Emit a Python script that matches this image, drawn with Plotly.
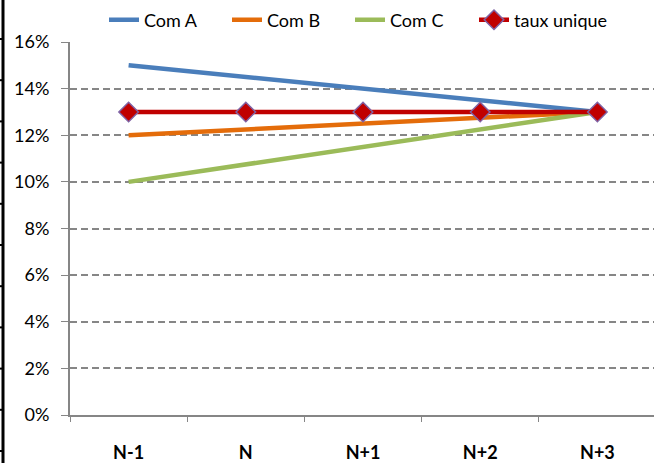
import plotly.graph_objects as go

categories = ["N-1", "N", "N+1", "N+2", "N+3"]
com_a = [15.0, 14.5, 14.0, 13.5, 13.0]
com_b = [12.0, 12.25, 12.5, 12.75, 13.0]
com_c = [10.0, 10.75, 11.5, 12.25, 13.0]
taux_unique = [13.0, 13.0, 13.0, 13.0, 13.0]
y_ticks = [0, 2, 4, 6, 8, 10, 12, 14, 16]
y_tick_labels = [f"{v}%" for v in y_ticks]

FONT = "Lato"
W, H = 654, 463
L, R, T, B = 70, 0, 42, 48
PW, PH = W - L - R, H - T - B

fig = go.Figure()
fig.add_trace(go.Scatter(x=categories, y=com_a, name="Com A", mode="lines",
                         line=dict(color="#4A7EBB", width=4.5), legend="legend"))
fig.add_trace(go.Scatter(x=categories, y=com_b, name="Com B", mode="lines",
                         line=dict(color="#E46C0A", width=4.5), legend="legend"))
fig.add_trace(go.Scatter(x=categories, y=com_c, name="Com C", mode="lines",
                         line=dict(color="#9BBB59", width=4.5), legend="legend"))
fig.add_trace(go.Scatter(x=categories, y=taux_unique, name="taux unique", mode="lines+markers",
                         line=dict(color="#C00000", width=4.5),
                         marker=dict(symbol="diamond", size=15, color="#C00000",
                                     line=dict(color="#7F63A5", width=1.5)),
                         legend="legend2"))

def px_x(px):
    return (px - L) / PW

def px_y(py):
    return (H - B - py) / PH

shapes = [dict(type="line", xref="paper", yref="paper",
               x0=px_x(3), x1=px_x(3), y0=px_y(0), y1=px_y(H),
               line=dict(color="black", width=3))]
for k in range(11):
    yy = 39 + 41.2 * k
    shapes.append(dict(type="line", xref="paper", yref="paper",
                       x0=px_x(0), x1=px_x(4), y0=px_y(yy), y1=px_y(yy),
                       line=dict(color="black", width=2)))

legend_common = dict(orientation="h", xanchor="left", y=px_y(20), yanchor="middle",
                     font=dict(family=FONT, size=18, color="black"),
                     bgcolor="rgba(0,0,0,0)")

fig.update_layout(
    width=W, height=H,
    margin=dict(l=L, r=R, t=T, b=B, autoexpand=False),
    paper_bgcolor="white", plot_bgcolor="white",
    font=dict(family=FONT, size=18, color="black"),
    showlegend=True,
    legend=dict(x=px_x(104), entrywidth=78, entrywidthmode="pixels", **legend_common),
    legend2=dict(x=px_x(474), **legend_common),
    shapes=shapes,
    xaxis=dict(type="category", range=[-0.5, 4.5 - 2 / 117], automargin=False,
               showline=True, linecolor="#868686", linewidth=2,
               ticks="outside", tickson="boundaries", ticklen=5, tickcolor="#868686",
               tickfont=dict(family=FONT, size=18, color="black", weight="bold"),
               ticklabelstandoff=20, showgrid=False, zeroline=False),
    yaxis=dict(range=[0, 16], tickvals=y_ticks, ticktext=y_tick_labels, automargin=False,
               showline=True, linecolor="#868686", linewidth=2,
               ticks="outside", ticklen=7, tickcolor="#868686",
               tickfont=dict(family=FONT, size=18, color="black"),
               ticklabelstandoff=8,
               showgrid=True, gridcolor="#868686", gridwidth=1.5, griddash="7px,4px",
               zeroline=False),
)

fig.write_html("out.html", config={"displayModeBar": False},
               post_script="document.body.style.margin='0px';")
